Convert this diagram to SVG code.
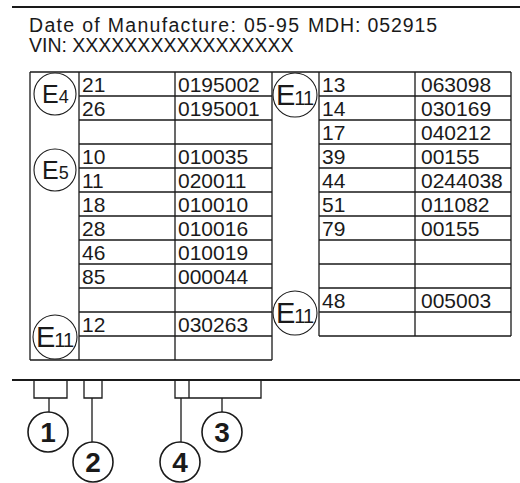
<svg xmlns="http://www.w3.org/2000/svg" width="520" height="483" viewBox="0 0 520 483">
<style>
.ln{stroke:#1a1a1a;stroke-width:1.3;fill:none}
.thk{stroke:#1a1a1a;stroke-width:2.2;fill:none}
.cir{stroke:#1a1a1a;stroke-width:1.1;fill:#fff}
.hd{font-family:"Liberation Sans",Arial,sans-serif;font-size:19.5px;fill:#1a1a1a}
.td{font-family:"Liberation Sans",Arial,sans-serif;font-size:21px;fill:#1a1a1a}
.ce{font-family:"Liberation Sans",Arial,sans-serif;fill:#1a1a1a}
.num{font-family:"Liberation Sans Narrow","Liberation Sans",Arial,sans-serif;font-size:28px;font-weight:bold;fill:#1a1a1a;text-anchor:middle}
.bc{stroke:#1a1a1a;stroke-width:1.6;fill:#fff}
</style>
<rect width="520" height="483" fill="#fff"/>
<g id="header">
<line class="thk" x1="12" y1="7" x2="520" y2="7"/>
<text class="hd" x="29" y="32"><tspan textLength="270" lengthAdjust="spacing">Date of Manufacture: 05-95</tspan><tspan x="308" textLength="129" lengthAdjust="spacing">MDH: 052915</tspan></text>
<text class="hd" x="29" y="52">VIN: XXXXXXXXXXXXXXXXX</text>
</g>
<g id="table-left">
<path class="ln" d="M30 72H272M30 360H272M30 72V360M79 72V360M175 72V360M272 72V360"/>
<path class="ln" d="M79 96H272M79 120H272M79 144H272M79 168H272M79 192H272M79 216H272M79 240H272M79 264H272M79 288H272M79 312H272M79 336H272"/>
<g class="td">
<text x="82" y="92">21</text><text x="178" y="92">0195002</text>
<text x="82" y="116">26</text><text x="178" y="116">0195001</text>
<text x="82" y="164">10</text><text x="178" y="164">010035</text>
<text x="82" y="188">11</text><text x="178" y="188">020011</text>
<text x="82" y="212">18</text><text x="178" y="212">010010</text>
<text x="82" y="236">28</text><text x="178" y="236">010016</text>
<text x="82" y="260">46</text><text x="178" y="260">010019</text>
<text x="82" y="284">85</text><text x="178" y="284">000044</text>
<text x="82" y="332">12</text><text x="178" y="332">030263</text>
</g>
</g>
<g id="table-right">
<path class="ln" d="M272 72H511M319 72V336M415 72V336M511 72V336M319 336H511"/>
<path class="ln" d="M319 96H511M319 120H511M319 144H511M319 168H511M319 192H511M319 216H511M319 240H511M319 264H511M319 288H511M319 312H511"/>
<g class="td">
<text x="322" y="92">13</text><text x="421" y="92">063098</text>
<text x="322" y="116">14</text><text x="421" y="116">030169</text>
<text x="322" y="140">17</text><text x="421" y="140">040212</text>
<text x="322" y="164">39</text><text x="421" y="164">00155</text>
<text x="322" y="188">44</text><text x="421" y="188">0244038</text>
<text x="322" y="212">51</text><text x="421" y="212">011082</text>
<text x="322" y="236">79</text><text x="421" y="236">00155</text>
<text x="322" y="308">48</text><text x="421" y="308">005003</text>
</g>
</g>
<g id="E4">
<circle class="cir" cx="55" cy="94" r="21"/>
<text class="ce" x="42" y="103"><tspan font-size="25">E</tspan><tspan font-size="18">4</tspan></text>
</g>
<g id="E5">
<circle class="cir" cx="55" cy="170" r="21"/>
<text class="ce" x="42" y="179"><tspan font-size="25">E</tspan><tspan font-size="18">5</tspan></text>
</g>
<g id="E11-left">
<circle class="cir" cx="55" cy="337" r="22"/>
<text class="ce" x="36" y="347" letter-spacing="-1"><tspan font-size="29">E</tspan><tspan font-size="20">11</tspan></text>
</g>
<g id="E11-right-top">
<circle class="cir" cx="295" cy="95" r="22"/>
<text class="ce" x="276" y="105" letter-spacing="-1"><tspan font-size="29">E</tspan><tspan font-size="20">11</tspan></text>
</g>
<g id="E11-right-bottom">
<circle class="cir" cx="295" cy="313" r="22"/>
<text class="ce" x="276" y="323" letter-spacing="-1"><tspan font-size="29">E</tspan><tspan font-size="20">11</tspan></text>
</g>
<g id="connectors">
<line class="thk" x1="12" y1="380" x2="520" y2="380"/>
<path class="ln" d="M34 380V398H67V380M49 398V412"/>
<path class="ln" d="M84 380V398H102V380M92 398V442"/>
<path class="ln" d="M175 380V398H261V380M189 380V398M181 398V442M222 398V412"/>
</g>
<g id="callout-1"><circle class="bc" cx="48" cy="432" r="20"/><text class="num" x="48" y="442">1</text></g>
<g id="callout-2"><circle class="bc" cx="93" cy="462" r="20"/><text class="num" x="93" y="472">2</text></g>
<g id="callout-3"><circle class="bc" cx="222" cy="432" r="20"/><text class="num" x="222" y="442">3</text></g>
<g id="callout-4"><circle class="bc" cx="180" cy="462" r="20"/><text class="num" x="180" y="472">4</text></g>
</svg>
